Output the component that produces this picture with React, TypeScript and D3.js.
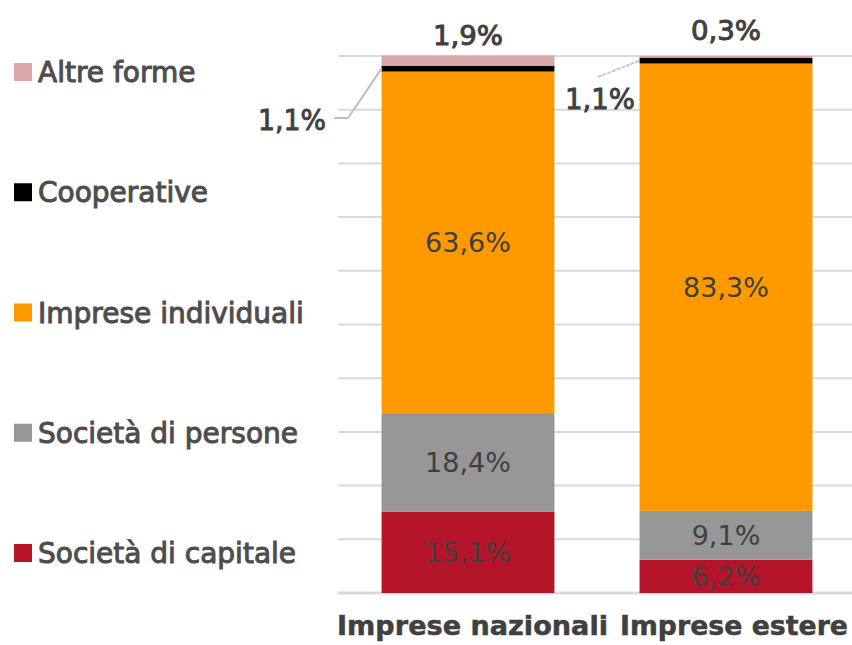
import React from 'react'
import * as d3 from 'd3'

const W = 852
const H = 645

const categories = ['Imprese nazionali', 'Imprese estere']
const series = ['Società di capitale', 'Società di persone', 'Imprese individuali', 'Cooperative', 'Altre forme']
const colors = ['#b51528', '#969696', '#ff9900', '#000000', '#d9a7aa']
const nazionali = [15.1, 18.4, 63.6, 1.1, 1.9]
const estere = [6.2, 9.1, 83.3, 1.1, 0.3]
const yTicks = [0, 10, 20, 30, 40, 50, 60, 70, 80, 90, 100]

const font = 'DejaVu Sans, Verdana, sans-serif'
const txt = '#404040'

const fmt = (v: number) => v.toFixed(1).replace('.', ',') + '%'

export default function App() {
  const x = d3.scaleBand<string>().domain(categories).range([339, 855]).paddingInner(0.33).paddingOuter(0.165)
  const y = d3.scaleLinear().domain([0, 100]).range([593, 56])
  const legendY = d3.scalePoint<string>().domain(series.slice().reverse()).range([72, 553])

  const rows = categories.map((c, i) => {
    const vals = i === 0 ? nazionali : estere
    const o: any = { cat: c }
    series.forEach((s, j) => (o[s] = vals[j]))
    return o
  })
  const stacked = d3.stack<any>().keys(series)(rows)

  const bw = x.bandwidth()
  const x0 = x(categories[0])!
  const x1 = x(categories[1])!
  // cooperative / altre segments, used for the outside labels
  const coop = stacked[3]
  const altre = stacked[4]
  const coopMid0 = y((coop[0][0] + coop[0][1]) / 2)
  const coopMid1 = y((coop[1][0] + coop[1][1]) / 2)

  return (
    <svg width={W} height={H} style={{ position: 'absolute', left: 0, top: 0, background: '#fff' }}>
      {yTicks.map(t => (
        <line key={t} x1={338} x2={W} y1={y(t)} y2={y(t)} stroke="#d9d9d9" strokeWidth={t === 0 ? 3 : 2} />
      ))}

      {stacked.map((layer, li) => (
        <g key={layer.key} fill={colors[li]}>
          {layer.map((d, ci) => (
            <rect key={ci} x={x(categories[ci])} width={bw} y={y(d[1])} height={y(d[0]) - y(d[1])} />
          ))}
        </g>
      ))}

      {/* labels inside the big segments */}
      {stacked.slice(0, 3).map(layer =>
        layer.map((d, ci) => (
          <text key={layer.key + ci} x={x(categories[ci])! + bw / 2} y={(y(d[0]) + y(d[1])) / 2} dy="0.36em"
            textAnchor="middle" fontFamily={font} fontSize={27} fill={txt}>
            {fmt(d[1] - d[0])}
          </text>
        ))
      )}

      {/* altre forme on top */}
      <text x={x0 + bw / 2} y={y(altre[0][1]) - 10} textAnchor="middle" fontFamily={font} fontSize={27}
        fill={txt} stroke={txt} strokeWidth={1} textLength={70} lengthAdjust="spacingAndGlyphs">{fmt(nazionali[4])}</text>
      <text x={x1 + bw / 2} y={y(altre[1][1]) - 16} textAnchor="middle" fontFamily={font} fontSize={27}
        fill={txt} stroke={txt} strokeWidth={1} textLength={70} lengthAdjust="spacingAndGlyphs">{fmt(estere[4])}</text>

      {/* cooperative, with leader lines */}
      <polyline points={`334,118 348,118 ${x0},${coopMid0}`} fill="none" stroke="#bfbfbf" strokeWidth={2} />
      <text x={326} y={130} textAnchor="end" fontFamily={font} fontSize={28}
        fill={txt} stroke={txt} strokeWidth={0.9} textLength={68} lengthAdjust="spacingAndGlyphs">{fmt(nazionali[3])}</text>
      <line x1={598} y1={77} x2={x1} y2={coopMid1} stroke="#c8c8c8" strokeWidth={2} strokeDasharray="4,1" />
      <text x={635} y={109} textAnchor="end" fontFamily={font} fontSize={28}
        fill={txt} stroke={txt} strokeWidth={0.9} textLength={70} lengthAdjust="spacingAndGlyphs">{fmt(estere[3])}</text>

      {/* category axis */}
      <text x={337} y={635} fontFamily={font} fontSize={27} fontWeight="bold" fill={txt} stroke={txt} strokeWidth={0.5}
        textLength={271} lengthAdjust="spacingAndGlyphs">{categories[0]}</text>
      <text x={620} y={635} fontFamily={font} fontSize={27} fontWeight="bold" fill={txt} stroke={txt} strokeWidth={0.5}
        textLength={228} lengthAdjust="spacingAndGlyphs">{categories[1]}</text>

      {/* legend */}
      {series.map((s, i) => (
        <g key={s} transform={`translate(0,${legendY(s)})`}>
          <rect x={14} y={-9} width={18} height={18} fill={colors[i]} />
          <text x={38} y={10} fontFamily={font} fontSize={28} fill="#4d4d4d" stroke="#4d4d4d" strokeWidth={1}>{s}</text>
        </g>
      ))}
    </svg>
  )
}
